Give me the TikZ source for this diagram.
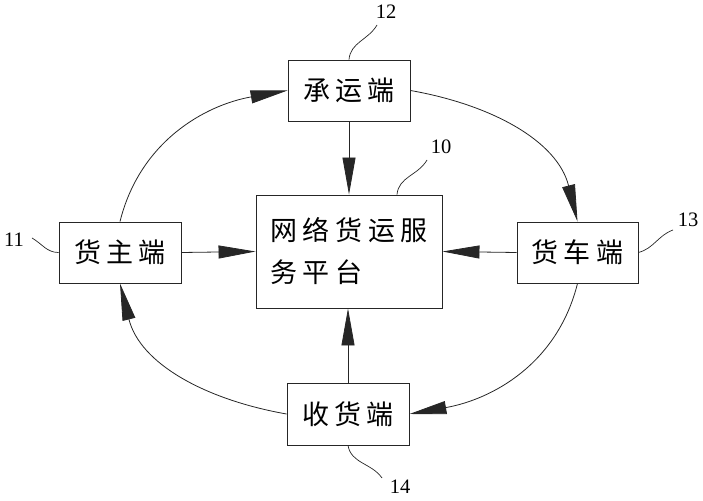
\documentclass[tikz,border=0pt]{standalone}
\usepackage{fontspec}
\setmainfont{Liberation Serif}
\newfontfamily\cjk{Noto Sans CJK SC}
\usetikzlibrary{arrows.meta}
\newcommand\cg{\hspace{5.5pt}}
\begin{document}
\begin{tikzpicture}[x=1pt,y=1pt,
  box/.style={draw=black!85, line width=0.9pt, minimum width=122pt, minimum height=61pt,
    inner sep=0pt, font=\cjk\fontsize{27pt}{42pt}\selectfont},
  arr/.style={draw=black!85, line width=0.8pt, -{Triangle[length=37pt,width=13pt]}},
  lead/.style={draw=black!85, line width=0.7pt},
  num/.style={font=\fontsize{20.5pt}{22pt}\selectfont, inner sep=0pt}]
\path[use as bounding box] (0,0) rectangle (703,500);
% boxes
\node[box] (cheng) at (349,409.5) {承\cg 运\cg 端};
\node[box, minimum width=186pt, minimum height=113pt, align=left] (plat) at (349,248.5)
  {网\cg 络\cg 货\cg 运\cg 服\\务\cg 平\cg 台};
\node[box] (zhu) at (120,247.5) {货\cg 主\cg 端};
\node[box, minimum width=121pt] (che) at (577.5,247.5) {货\cg 车\cg 端};
\node[box, minimum height=62pt] (shou) at (348,86) {收\cg 货\cg 端};
% straight arrows
\draw[arr] (zhu.east) -- (plat.west);
\draw[arr] (che.west) -- (plat.east);
\draw[arr] (cheng.south) -- (plat.north);
\draw[arr] (shou.north) -- (shou.north |- plat.south);
% ring arcs
\draw[arr] (zhu.north) to[out=76,in=190] (cheng.west);
\draw[arr] (cheng.east) to[out=-10,in=104] (che.north);
\draw[arr] (che.south) to[out=-104,in=10] (shou.east);
\draw[arr] (shou.west) to[out=170,in=-76] (zhu.south);
% labels
\node[num] (n12) at (386,488) {12};
\node[num] (n10) at (441,353) {10};
\node[num] (n11) at (14,260) {11};
\node[num] (n13) at (688,280) {13};
\node[num] (n14) at (400,13) {14};
\coordinate (e12) at (377,475);
\coordinate (e10) at (427,340);
\coordinate (e11) at (32,262);
\coordinate (e13) at (673,270);
\coordinate (e14) at (382,22);
\draw[lead] (cheng.north) to[out=85,in=240] (e12);
\draw[lead] ([xshift=48pt]plat.north) to[out=85,in=240] (e10);
\draw[lead] (zhu.west) to[out=180,in=-30] (e11);
\draw[lead] (che.east) to[out=15,in=200] (e13);
\draw[lead] (shou.south) to[out=-80,in=125] (e14);
\end{tikzpicture}
\end{document}
